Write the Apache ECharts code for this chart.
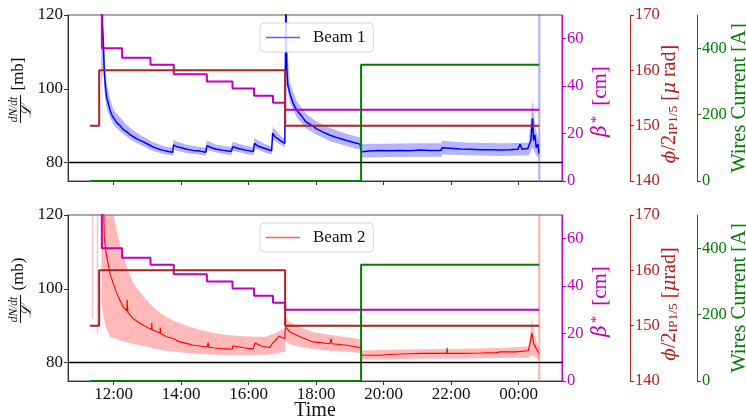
<!DOCTYPE html>
<html><head><meta charset="utf-8">
<script src="https://cdn.jsdelivr.net/npm/echarts@6/dist/echarts.min.js"></script>
<style>html,body{margin:0;padding:0;background:#fff}#c{width:746px;height:419px}</style>
</head><body><div id="c"></div>
<script>
const FONT = '"Liberation Serif","DejaVu Serif",serif';
// time in hours (24 = 00:00 next day)
const timeTicks = [12, 14, 16, 18, 20, 22, 24];
const xMin = 10.646, xMax = 25.283;
const mbTicks = [80, 100, 120];
const betaTicks = [0, 20, 40, 60];
const phiTicks = [140, 150, 160, 170];
const wireTicks = [0, 200, 400];

// Beam 1 central curve
const beam1T = [11.640, 11.660, 11.690, 11.720, 11.750, 11.790, 11.840, 11.890, 11.960, 12.040, 12.110, 12.190, 12.280, 12.390, 12.480, 12.580, 12.730, 12.880, 13.030, 13.170, 13.320, 13.470, 13.620, 13.750, 13.770, 13.870, 14.010, 14.160, 14.360, 14.560, 14.730, 14.760, 14.900, 15.050, 15.250, 15.480, 15.530, 15.690, 15.940, 16.140, 16.170, 16.280, 16.480, 16.680, 16.710, 16.780, 16.930, 17.070, 17.100, 17.130, 17.160, 17.220, 17.310, 17.420, 17.550, 17.700, 17.850, 18.000, 18.190, 18.410, 18.640, 18.900, 19.090, 19.300, 19.340, 19.590, 19.890, 20.190, 20.480, 20.780, 21.080, 21.370, 21.700, 21.730, 21.970, 22.260, 22.560, 22.860, 23.150, 23.450, 23.740, 23.980, 24.040, 24.100, 24.270, 24.360, 24.410, 24.440, 24.480, 24.520, 24.570, 24.600];
const beam1V = [125, 118, 113, 105, 101, 97.8, 96, 94.2, 92.6, 91.5, 90.6, 90.0, 89.0, 88.3, 87.6, 87.0, 86.2, 85.6, 84.9, 84.2, 83.7, 83.3, 83.0, 82.8, 84.8, 84.3, 84.0, 83.6, 83.3, 83.1, 82.8, 84.6, 84.0, 83.6, 83.3, 83.0, 84.3, 83.8, 83.3, 83.0, 85.2, 84.4, 83.8, 83.2, 88.0, 87.0, 86.0, 85.2, 125, 105, 101, 98.7, 96.2, 94.2, 92.8, 91.0, 90.2, 89.2, 88.3, 87.4, 86.7, 86.0, 85.5, 85.0, 82.9, 83.1, 83.3, 83.2, 83.3, 83.2, 83.4, 83.3, 83.3, 84.0, 83.9, 83.7, 83.6, 83.5, 83.5, 83.4, 83.5, 83.6, 85.0, 83.6, 83.8, 86.0, 92.0, 86.0, 87.5, 84.0, 85.0, 82.5];
// Beam 1 spread band
const band1T = [11.630, 11.690, 11.720, 11.750, 11.790, 11.840, 11.890, 11.960, 12.040, 12.190, 12.390, 12.580, 12.880, 13.170, 13.470, 13.750, 13.770, 13.870, 14.160, 14.560, 14.730, 14.760, 15.050, 15.480, 15.530, 15.940, 16.140, 16.170, 16.480, 16.680, 16.710, 16.930, 17.070, 17.100, 17.130, 17.220, 17.420, 17.700, 18.000, 18.410, 18.900, 19.300, 19.340, 20.000, 21.000, 21.700, 21.730, 22.500, 23.500, 24.300, 24.410, 24.500, 24.600];
const band1Low = [100, 106, 100, 97, 95, 93.5, 92.3, 90.8, 89.8, 88.4, 87, 85.8, 84.4, 83.1, 82.3, 81.9, 83.7, 83.2, 82.6, 82.1, 81.9, 83.4, 82.7, 82.0, 83.2, 82.3, 82.0, 83.9, 82.7, 82.2, 86.3, 84.9, 84.2, 95, 101, 96.3, 92.3, 89.3, 87.6, 85.8, 84.5, 83.5, 81.4, 81.5, 81.6, 81.6, 82.2, 82.0, 81.8, 82.0, 84, 82.3, 81];
const band1High = [125, 122, 112, 106, 102, 99.5, 97.2, 95.2, 93.8, 92.2, 90.2, 88.7, 87.0, 85.5, 84.5, 84.0, 86.2, 85.7, 84.8, 84.2, 84.0, 86.0, 84.8, 84.2, 85.6, 84.5, 84.2, 86.6, 85.0, 84.4, 89.7, 87.4, 86.4, 125, 112, 101.7, 96.7, 93.2, 91.2, 89.4, 87.8, 86.8, 85.0, 85.1, 85.2, 85.2, 85.9, 85.4, 85.2, 85.4, 97, 89, 86];

// Beam 2 central curve
const beam2T = [11.700, 11.720, 11.770, 11.830, 11.890, 11.990, 12.060, 12.140, 12.280, 12.390, 12.400, 12.420, 12.580, 12.720, 12.880, 13.020, 13.120, 13.130, 13.140, 13.370, 13.380, 13.390, 13.570, 13.760, 13.960, 14.160, 14.360, 14.560, 14.760, 14.800, 14.810, 14.940, 15.150, 15.350, 15.510, 15.530, 15.740, 15.940, 16.130, 16.190, 16.390, 16.630, 16.710, 16.800, 16.890, 16.980, 17.070, 17.090, 17.220, 17.520, 17.910, 18.410, 18.440, 18.470, 18.900, 19.300, 19.340, 19.590, 19.890, 20.190, 20.480, 20.780, 21.080, 21.370, 21.870, 21.880, 21.890, 22.260, 22.860, 23.330, 23.450, 23.900, 24.280, 24.330, 24.390, 24.450, 24.510, 24.570, 24.600];
const beam2V = [125, 114, 110, 107, 104, 101.4, 99.5, 97.8, 95.1, 94.0, 97.0, 93.6, 91.9, 91.0, 90.1, 89.4, 88.9, 90.8, 88.9, 88.0, 89.5, 87.9, 87.0, 86.5, 85.6, 85.2, 84.7, 84.5, 84.2, 85.4, 84.2, 84.0, 83.8, 83.7, 83.6, 84.5, 84.2, 83.9, 83.7, 85.3, 84.4, 84.1, 85.3, 86.0, 87.2, 86.8, 86.5, 89.7, 88.3, 87.0, 85.6, 85.1, 86.5, 85.1, 84.7, 84.1, 82.0, 82.0, 82.0, 82.2, 82.3, 82.4, 82.5, 82.5, 82.5, 84.0, 82.5, 82.5, 82.6, 82.7, 82.9, 82.9, 83.2, 85.0, 88.0, 85.0, 84.0, 83.0, 82.5];
// Beam 2 spread band
const band2T = [11.640, 11.750, 11.890, 12.040, 12.190, 12.390, 12.580, 12.880, 13.170, 13.470, 13.770, 14.160, 14.560, 14.960, 15.350, 15.740, 16.130, 16.500, 16.800, 17.070, 17.090, 17.220, 17.520, 17.910, 18.410, 18.900, 19.300, 19.340, 20.000, 21.000, 22.000, 23.000, 23.600, 24.300, 24.390, 24.500, 24.600];
const band2Low = [96, 90, 87, 86.5, 86, 85.5, 85.1, 84.5, 83.8, 83.3, 83.0, 82.6, 82.3, 82.1, 82.0, 82.0, 82.0, 82.1, 82.4, 83.0, 86.0, 85.0, 84.2, 83.6, 83.2, 82.9, 82.6, 80.8, 80.9, 81.0, 81.1, 81.2, 81.3, 81.4, 82.0, 81.5, 80.5];
const band2High = [125, 125, 125, 118, 112, 106, 101.4, 98, 95, 92.8, 91.3, 90.0, 88.8, 88.0, 87.5, 87.2, 87.0, 87.0, 88.0, 89.2, 92.5, 91.0, 89.5, 88.3, 87.5, 86.9, 86.3, 83.3, 83.4, 83.6, 83.7, 83.9, 84.0, 84.4, 92.0, 86.0, 84.0];
// early spikes of beam 2 spread
const stripe2T = [11.37, 11.37, 11.45, 11.52, 11.52];
const stripe2V = [92, 125, '-', 88, 125];
// last sample: spread covers the whole range
const endT = [24.61, 24.61];
const endV = [74, 121];

// machine settings (step functions)
const betaT = [11.64, 11.65, 12.25, 13.09, 13.78, 14.76, 15.52, 16.16, 16.72, 17.08, 24.61];
const betaV = [120, 56, 52, 49, 45, 42, 39, 36, 33, 30, 30];
const phiT = [11.30, 11.57, 17.08, 24.61];
const phiV = [150, 160, 150, 150];
const wireT = [11.30, 19.33, 24.61];
const wireV = [0, 350, 350];

const pair = (T, V) => T.map((t, i) => [t, V[i]]);
const MAG = '#bf00bf', GRN = '#008000', PHI = '#b22222';

const grids = [
  {left: 68, top: 15, width: 494, height: 166},
  {left: 68, top: 215, width: 494, height: 166}
].map(g => Object.assign(g, {show: true, borderColor: '#555', borderWidth: 1, backgroundColor: 'transparent', containLabel: false, outerBoundsMode: 'none'}));

function xAxis(p) {
  return {
    gridIndex: p, type: 'value', min: xMin, max: xMax,
    axisLine: {show: true, onZero: false, lineStyle: {color: '#333', width: 1}},
    axisTick: {show: true, customValues: timeTicks, length: 4, lineStyle: {color: '#333'}},
    axisLabel: {show: p === 1, customValues: timeTicks, margin: 5, fontSize: 17, fontFamily: FONT, color: '#111',
      formatter: v => String(((Math.round(v) % 24) + 24) % 24).padStart(2, '0') + ':00'},
    splitLine: {show: false},
    name: p === 1 ? 'Time' : '', nameLocation: 'middle', nameGap: 20, nameMoveOverlap: false,
    nameTextStyle: {fontSize: 20, fontFamily: FONT, color: '#111'}
  };
}
function rightAxis(p, min, max, ticks, color, offset, name, rich, gap, fs) {
  return {
    gridIndex: p, type: 'value', position: 'right', offset: offset, min: min, max: max,
    axisLine: {show: true, onZero: false, lineStyle: {color: color, width: 1}},
    axisTick: {show: true, customValues: ticks, length: 4, lineStyle: {color: color}},
    axisLabel: {customValues: ticks, margin: 5, fontSize: 16.5, fontFamily: FONT, color: color},
    splitLine: {show: false},
    name: name, nameLocation: 'middle', nameRotate: 90, nameGap: gap, nameMoveOverlap: false,
    nameTextStyle: {color: color, fontFamily: FONT, fontSize: fs, rich: rich}
  };
}
function yAxes(p, phiUnit) {
  const rt = (o) => Object.assign({fontFamily: FONT, fontSize: 21}, o);
  return [
    {gridIndex: p, type: 'value', position: 'left', min: 75, max: 120,
      axisLine: {show: true, onZero: false, lineStyle: {color: '#333', width: 1}},
      axisTick: {show: true, customValues: mbTicks, length: 4, lineStyle: {color: '#333'}},
      axisLabel: {customValues: mbTicks, margin: 5, fontSize: 17, fontFamily: FONT, color: '#111'},
      splitLine: {show: false}},
    rightAxis(p, 0, 70, betaTicks, MAG, 0, '{b|β}{s|*}{t|[cm]}',
      {b: rt({color: MAG, fontStyle: 'italic', fontFamily: '"DejaVu Serif",serif', fontSize: 20}),
       s: rt({color: MAG, fontSize: 15, verticalAlign: 'top', padding: [0, 10, 0, 2]}),
       t: rt({color: MAG, padding: [0, 7, 0, 0]})}, 28, 21),
    rightAxis(p, 140, 170, phiTicks, PHI, 68, '{i|ϕ}{t|/2}{sub|IP1/5}{t| [}{m|μ}{e|' + phiUnit + ']}',
      {i: rt({color: PHI, fontStyle: 'italic', fontFamily: '"DejaVu Serif",serif', fontSize: 18.5}),
       t: rt({color: PHI, fontSize: 20}),
       e: rt({color: PHI, fontSize: 20, padding: [0, 12, 0, 0]}),
       sub: rt({color: PHI, fontSize: 13.5, verticalAlign: 'bottom', padding: [5, 0, 0, 0]}),
       m: rt({color: PHI, fontStyle: 'italic', fontFamily: '"DejaVu Serif",serif', fontSize: 18.5})}, 30, 20),
    rightAxis(p, 0, 500, wireTicks, GRN, 135, 'Wires Current [A]', {}, 32, 20.5)
  ];
}

function bandSeries(p, BT, BL, BH, fill) {
  return {
    type: 'custom', xAxisIndex: p, yAxisIndex: p * 4, silent: true, clip: true, z: 1,
    data: BT.map((t, i) => [t, BL[i], BH[i]]),
    encode: {x: 0, y: [1, 2]},
    renderItem: (params, api) => {
      if (params.dataIndex !== 0) return null;
      const pts = [];
      for (let i = 0; i < BT.length; i++) pts.push(api.coord([BT[i], BL[i]]));
      for (let i = BT.length - 1; i >= 0; i--) pts.push(api.coord([BT[i], BH[i]]));
      return {type: 'polygon', shape: {points: pts}, style: {fill: fill}};
    }
  };
}

function panelSeries(p, name, color, lineW, T, V, BT, BL, BH, bandColor, endColor, phiColor) {
  const yb = p * 4;
  const s = [
    bandSeries(p, BT, BL, BH, bandColor),
    {type: 'line', name: name + ' end', xAxisIndex: p, yAxisIndex: yb, symbol: 'none', silent: true,
      lineStyle: {color: endColor, width: 2}, data: pair(endT, endV), z: 1},
    {type: 'line', name: name, xAxisIndex: p, yAxisIndex: yb, symbol: 'none', color: color,
      lineStyle: {color: color, width: lineW}, data: pair(T, V), z: 2,
      markLine: {silent: true, symbol: ['none', 'none'], label: {show: false},
        lineStyle: {color: '#000', width: 1.3, type: 'solid'}, data: [{yAxis: 80}]}},
    {type: 'line', name: 'beta' + p, xAxisIndex: p, yAxisIndex: yb + 1, symbol: 'none', step: 'end',
      lineStyle: {color: MAG, width: 2}, data: pair(betaT, betaV), z: 3},
    {type: 'line', name: 'phi' + p, xAxisIndex: p, yAxisIndex: yb + 2, symbol: 'none', step: 'end',
      lineStyle: {color: phiColor, width: 2}, data: pair(phiT, phiV), z: 3},
    {type: 'line', name: 'wires' + p, xAxisIndex: p, yAxisIndex: yb + 3, symbol: 'none', step: 'end',
      lineStyle: {color: GRN, width: 2}, data: pair(wireT, wireV), z: 3}
  ];
  if (p === 1) {
    s.push({type: 'line', name: 'stripes', xAxisIndex: p, yAxisIndex: yb, symbol: 'none', silent: true, connectNulls: false,
      lineStyle: {color: 'rgba(255,90,90,0.35)', width: 1.5}, data: pair(stripe2T, stripe2V), z: 1});
  }
  return s;
}

function legend(p, name, color) {
  return {data: [{name: name, icon: 'rect', itemStyle: {color: color}}], left: 260, top: p === 0 ? 23 : 223, orient: 'horizontal',
    padding: [6, 8, 6, 6], itemWidth: 34, itemHeight: 1.5, selectedMode: false,
    borderColor: '#d6d6d6', borderWidth: 1, borderRadius: 4, backgroundColor: 'rgba(255,255,255,0.85)',
    textStyle: {fontSize: 17, fontFamily: FONT, color: '#111', padding: [0, 0, 0, 8], lineHeight: 17}};
}

function leftTitle(p, unit) {
  const dy = p * 200;
  return [
    {type: 'text', x: 19, y: 74 + dy, rotation: Math.PI / 2,
      style: {text: unit, fontSize: 17, fontFamily: FONT, fill: '#111', align: 'center', verticalAlign: 'middle'}},
    {type: 'text', x: 14, y: 109.5 + dy, rotation: Math.PI / 2,
      style: {text: 'dN/dt', fontSize: 11.5, fontStyle: 'italic', fontFamily: FONT, fill: '#111', align: 'center', verticalAlign: 'middle'}},
    {type: 'line', shape: {x1: 20.5, y1: 95 + dy, x2: 20.5, y2: 123 + dy}, style: {stroke: '#111', lineWidth: 1}},
    {type: 'text', x: 27, y: 111 + dy, rotation: Math.PI / 2,
      style: {text: 'ℒ', fontSize: 15, fontFamily: '"DejaVu Serif",serif', fontStyle: 'italic', fill: '#111', align: 'center', verticalAlign: 'middle'}}
  ];
}

const chart = echarts.init(document.getElementById('c'), null, {renderer: 'canvas'});
chart.setOption({
  animation: false,
  backgroundColor: '#fff',
  grid: grids,
  xAxis: [xAxis(0), xAxis(1)],
  yAxis: yAxes(0, ' rad').concat(yAxes(1, 'rad')),
  legend: [legend(0, 'Beam 1', '#5c5cff'), legend(1, 'Beam 2', '#ff5c5c')],
  graphic: leftTitle(0, '[mb]').concat(leftTitle(1, '(mb)')),
  series: panelSeries(0, 'Beam 1', '#0000ff', 1.5, beam1T, beam1V, band1T, band1Low, band1High,
      'rgba(60,60,255,0.38)', 'rgba(90,90,255,0.5)', PHI)
    .concat(panelSeries(1, 'Beam 2', '#ff0000', 1.1, beam2T, beam2V, band2T, band2Low, band2High,
      'rgba(255,70,70,0.38)', 'rgba(255,90,90,0.5)', '#a32222'))
});
</script>
</body></html>
